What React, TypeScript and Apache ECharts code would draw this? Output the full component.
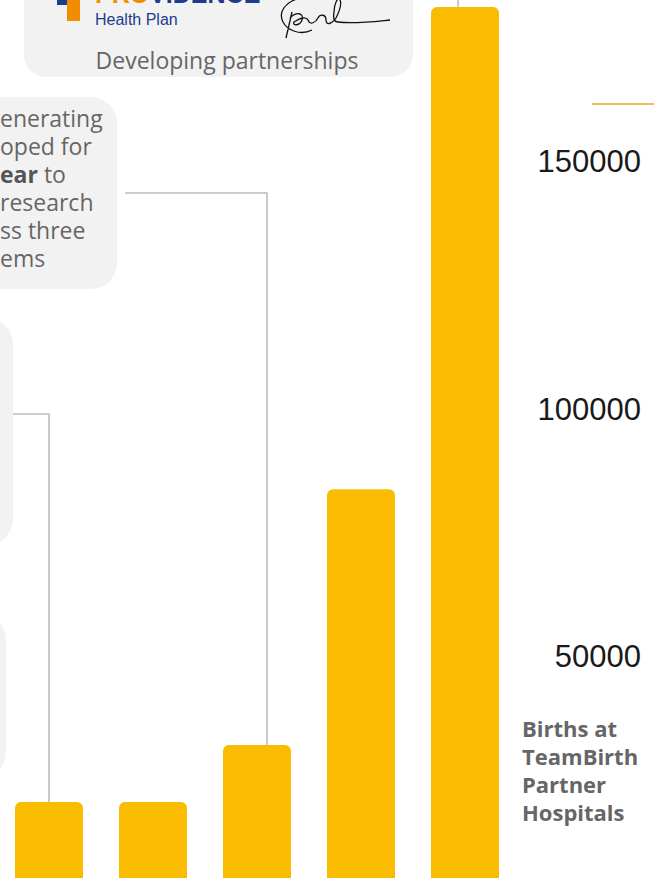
import React, { useEffect, useRef } from "react";
import * as echarts from "echarts";

const categories = ["2019", "2020", "2021", "2022", "2023"];
const births = [20600, 20600, 32100, 83800, 181200];
const yMin = 0;
const yMax = 200000;
const yStep = 50000;
const sideLabel = "Births at\nTeamBirth\nPartner\nHospitals";
const cardLines = ["enerating", "oped for", "{b|ear} to", "research", "ss three", "ems"];

const SIG =
  "M30 -2 C15 2 8 12 13 22 C17 30 30 36 42 30 M22 12 L16 38 M20 18 C26 12 34 12 32 20 C30 26 22 26 24 22 C30 18 36 16 38 20 C40 26 46 22 48 18 C50 14 56 14 56 20 C56 26 62 24 66 18 C70 10 72 4 70 0 C68 -4 64 4 64 12 C63 18 64 22 68 22 C84 24 100 22 120 20";
echarts.graphic.registerShape("sig", echarts.graphic.extendPath(SIG, {}));

// the chart canvas is larger than the page and offset, so that 0 and 200000 fall outside the view
const OX = 3;
const OY = 86;

export default function App() {
  const ref = useRef<HTMLDivElement>(null);
  useEffect(() => {
    const chart = echarts.init(ref.current!, null, { renderer: "svg" });
    const option: any = {
      animation: false,
      grid: { left: 0, right: 137, top: 0, bottom: 0, containLabel: false, outerBoundsMode: "none" },
      xAxis: {
        type: "category",
        data: categories,
        axisLine: { show: false },
        axisTick: { show: false },
        axisLabel: { show: false },
      },
      yAxis: {
        type: "value",
        position: "right",
        min: yMin,
        max: yMax,
        interval: yStep,
        splitLine: { show: false },
        axisLine: { show: false },
        axisTick: { show: false },
        axisLabel: {
          align: "right",
          margin: 124,
          fontFamily: "Liberation Sans",
          fontSize: 31,
          color: "#1a1a1a",
          formatter: (v: number) => String(v),
        },
      },
      series: [
        {
          type: "bar",
          data: births,
          barWidth: 68,
          itemStyle: { color: "#F9BC00", borderRadius: [6, 6, 0, 0] },
        },
      ],
    };
    chart.setOption(option);
    const top = (i: number) => {
      const p = chart.convertToPixel({ gridIndex: 0 }, [i, births[i]]) as number[];
      return [p[0] - OX, p[1] - OY];
    };
    const p0 = top(0);
    const p2 = top(2);
    const p4 = top(4);
    const lineStyle = { stroke: "#bdbdbd", lineWidth: 1.6 };
    const body = "Open Sans";
    chart.setOption({
      graphic: [
        {
          type: "group",
          x: OX,
          y: OY,
          children: [
            { type: "rect", z: 1, shape: { x: 24, y: -40, width: 389, height: 117, r: 22 }, style: { fill: "#f2f2f2" } },
            { type: "rect", z: 1, shape: { x: -60, y: 97, width: 177, height: 192, r: 26 }, style: { fill: "#f2f2f2" } },
            { type: "rect", z: 1, shape: { x: -200, y: 318, width: 213, height: 227, r: 26 }, style: { fill: "#f2f2f2" } },
            { type: "rect", z: 1, shape: { x: -200, y: 613, width: 206, height: 165, r: 26 }, style: { fill: "#f2f2f2" } },
            { type: "rect", z: 2, shape: { x: 57, y: -10, width: 11, height: 15 }, style: { fill: "#1d3c8c" } },
            { type: "rect", z: 2, shape: { x: 67, y: -10, width: 13, height: 31 }, style: { fill: "#F28C00" } },
            {
              type: "text", z: 2, x: 95, y: 6,
              style: {
                text: "{o|PRO}{n|VIDENCE}", verticalAlign: "bottom",
                rich: {
                  o: { fontFamily: "Liberation Sans", fontWeight: "bold", fontSize: 25, fill: "#F28C00" },
                  n: { fontFamily: "Liberation Sans", fontWeight: "bold", fontSize: 25, fill: "#1d3c8c" },
                },
              },
            },
            {
              type: "text", z: 2, x: 95, y: 19,
              style: { text: "Health Plan", fontFamily: "Liberation Sans", fontSize: 16, fill: "#1d3c8c", verticalAlign: "middle" },
            },
            {
              type: "sig", z: 2, x: 270, y: 0, scaleX: 1, scaleY: 1,
              style: { stroke: "#111", fill: "none", lineWidth: 1.3 },
            },
            {
              type: "text", z: 2, x: 227, y: 60,
              style: { text: "Developing partnerships", fontFamily: body, fontSize: 23, fill: "#666", align: "center", verticalAlign: "middle" },
            },
            {
              type: "text", z: 2, x: 0, y: 104,
              style: {
                text: cardLines.join("\n"), fontFamily: body, fontSize: 23, lineHeight: 28, fill: "#666",
                rich: { b: { fontFamily: body, fontSize: 23, lineHeight: 28, fontWeight: "bold", fill: "#555" } },
              },
            },
            {
              type: "text", z: 2, x: 522, y: 714,
              style: { text: sideLabel, fontFamily: body, fontWeight: "bold", fontSize: 22, lineHeight: 28, fill: "#666" },
            },
            { type: "polyline", z: 3, shape: { points: [[13, 414], [p0[0], 414], [p0[0], p0[1]]] }, style: { ...lineStyle, fill: "none" } },
            { type: "polyline", z: 3, shape: { points: [[125, 193], [p2[0] + 10, 193], [p2[0] + 10, p2[1]]] }, style: { ...lineStyle, fill: "none" } },
            { type: "line", z: 3, shape: { x1: p4[0] - 7, y1: 0, x2: p4[0] - 7, y2: p4[1] }, style: lineStyle },
            { type: "line", z: 3, shape: { x1: 592, y1: 104, x2: 660, y2: 104 }, style: { stroke: "#F5A623", lineWidth: 1.5 } },
            { type: "rect", z: 4, shape: { x: -10, y: 878, width: 700, height: 30 }, style: { fill: "#fff" } },
          ],
        },
      ],
    });
    return () => chart.dispose();
  }, []);
  return (
    <div style={{ position: "fixed", left: 0, top: 0, width: 654, height: 882, overflow: "hidden", background: "#fff" }}>
      <div ref={ref} style={{ position: "absolute", left: -OX, top: -OY, width: 657, height: 990 }} />
    </div>
  );
}
